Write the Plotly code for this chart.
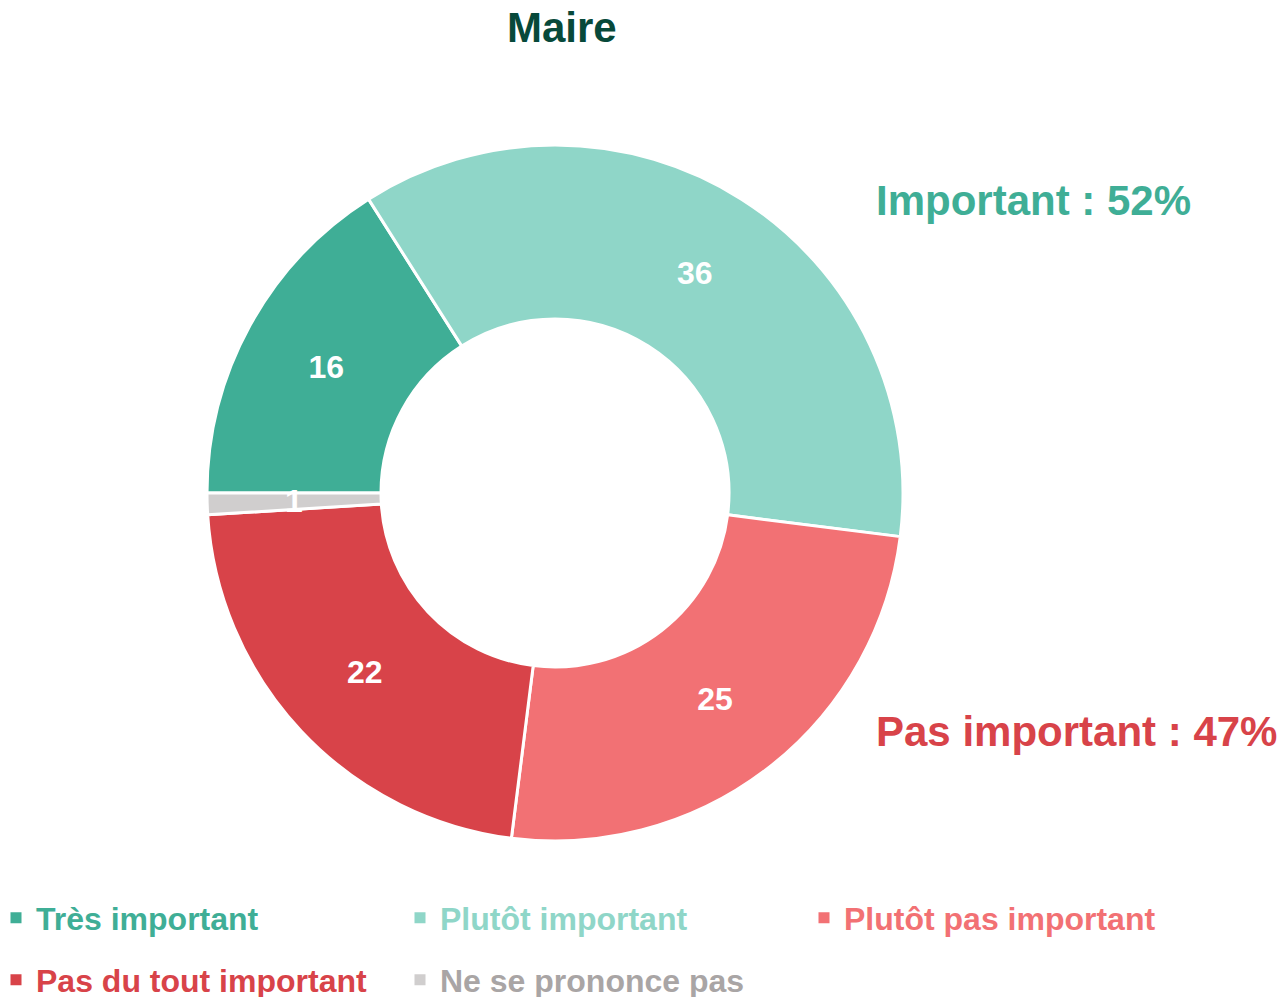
import math
import plotly.graph_objects as go

title = "Maire"
categories = ["Très important", "Plutôt important", "Plutôt pas important",
              "Pas du tout important", "Ne se prononce pas"]
values = [16, 36, 25, 22, 1]
slice_colors = ["#3FAE96", "#8FD6C8", "#F27174", "#D84349", "#D0CECE"]
legend_text_colors = ["#3FAE96", "#8FD6C8", "#F27174", "#D84349", "#A9A5A5"]
legend_rows = ["legend", "legend", "legend", "legend2", "legend2"]
summary_labels = ["Important : 52%", "Pas important : 47%"]
summary_colors = ["#3FAE96", "#D84349"]

OFF = 8                       # default page (body) margin around the figure
W, H = 1287 - OFF, 997 - OFF  # figure size that fits in the window
MB = 100                      # bottom margin reserved for the legend rows
PH = H - MB                   # plot-area height
FONT = "Liberation Sans, Arial, sans-serif"

cx, cy, R = 555 - OFF, 493 - OFF, 348
HOLE = 0.5
ROTATION = 270


def px(pix):
    """screen pixel x -> paper x"""
    return (pix - OFF) / W


def py(pix):
    """screen pixel-from-top -> paper y"""
    return 1 - (pix - OFF) / PH


total = sum(values)
fits = [v >= 5 for v in values]
slice_text = [str(v) if f else "" for v, f in zip(values, fits)]

fig = go.Figure()
fig.add_trace(go.Pie(
    labels=categories,
    values=values,
    text=slice_text,
    sort=False,
    direction="clockwise",
    rotation=ROTATION,
    hole=HOLE,
    marker=dict(colors=slice_colors, line=dict(color="white", width=3)),
    textinfo="text",
    textposition="inside",
    insidetextorientation="horizontal",
    textfont=dict(family=FONT, size=32, color="white", weight="bold"),
    hovertemplate="%{label}: %{value}<extra></extra>",
    showlegend=False,
    domain=dict(x=[(cx - R) / W, (cx + R) / W],
                y=[1 - (cy + R) / PH, 1 - (cy - R) / PH]),
))

annotations = []
cum = 0
for v, f in zip(values, fits):
    if not f:
        theta = math.radians(ROTATION + 360 * (cum + v / 2) / total)
        rm = R * (1 + HOLE) / 2
        ax = cx + rm * math.sin(theta)
        ay = cy - rm * math.cos(theta)
        annotations.append(dict(
            text=str(v), x=ax / W, y=1 - ay / PH, xref="paper", yref="paper",
            xanchor="center", yanchor="middle", showarrow=False,
            font=dict(family=FONT, size=32, color="white", weight="bold")))
    cum += v

for name, mc, tc, lg in zip(categories, slice_colors, legend_text_colors, legend_rows):
    fig.add_trace(go.Scatter(
        x=[None], y=[None], mode="markers",
        marker=dict(symbol="square", size=11, color=mc),
        name=f"<span style='color:{tc}'>{name}</span>",
        legend=lg, hoverinfo="skip",
    ))

legend_common = dict(
    orientation="h", xanchor="left", yanchor="middle", valign="middle",
    font=dict(family=FONT, size=32, weight="bold"),
    entrywidth=359, entrywidthmode="pixels",
    bgcolor="rgba(0,0,0,0)", itemclick=False, itemdoubleclick=False,
)

annotations += [
    dict(text=title, x=px(562), y=py(27), xref="paper", yref="paper",
         xanchor="center", yanchor="middle", showarrow=False,
         font=dict(family=FONT, size=42, color="#07493A", weight="bold")),
    dict(text=summary_labels[0], x=px(874), y=py(201), xref="paper", yref="paper",
         xanchor="left", yanchor="middle", showarrow=False,
         font=dict(family=FONT, size=42, color=summary_colors[0], weight="bold")),
    dict(text=summary_labels[1], x=px(874), y=py(731), xref="paper", yref="paper",
         xanchor="left", yanchor="middle", showarrow=False,
         font=dict(family=FONT, size=42, color=summary_colors[1], weight="bold")),
]

fig.update_layout(
    width=W, height=H,
    margin=dict(l=0, r=0, t=0, b=MB, autoexpand=False),
    paper_bgcolor="white", plot_bgcolor="white",
    xaxis=dict(visible=False), yaxis=dict(visible=False),
    legend=dict(x=-12 / W, y=py(918), **legend_common),
    legend2=dict(x=-12 / W, y=py(980), **legend_common),
    annotations=annotations,
)

fig.write_html("out.html")
